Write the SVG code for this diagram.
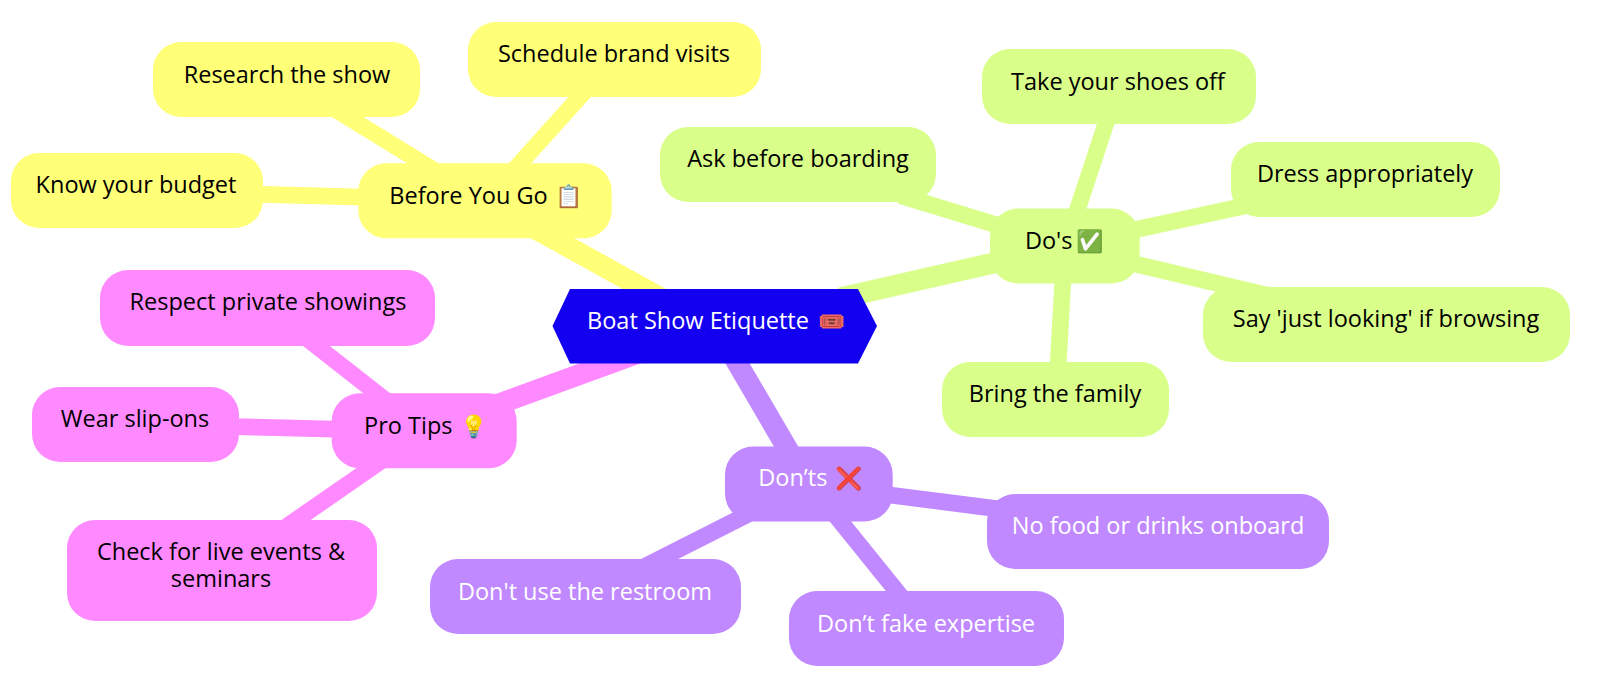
<svg xmlns="http://www.w3.org/2000/svg" width="1600" height="698" viewBox="0 0 1600 698">
<style>
text{font-family:"Open Sans","Noto Sans","DejaVu Sans",sans-serif;font-size:23.5px;text-anchor:middle}
.e{font-size:22px}
.d{fill:#000}.w{fill:#fff}
.y rect{fill:#ffff78}.g rect{fill:#d9ff8a}.p rect{fill:#c189ff}.m rect{fill:#ff8aff}
.cy{stroke:#ffff78}.cg{stroke:#d9ff8a}.cp{stroke:#c189ff}.cm{stroke:#ff8aff}
line{fill:none}
.t1{stroke-width:21}.t2{stroke-width:16.7}
</style>
<g id="connectors">
<line class="cy t1" x1="520" y1="220.2" x2="680" y2="308.7"/>
<line class="cg t1" x1="840" y1="297.9" x2="1010" y2="259.3"/>
<line class="cp t1" x1="715" y1="325" x2="808" y2="484"/>
<line class="cm t1" x1="480" y1="410.8" x2="660" y2="345.1"/>
<line class="cy t2" x1="595" y1="80" x2="505" y2="180"/>
<line class="cy t2" x1="320" y1="100" x2="450" y2="180"/>
<line class="cy t2" x1="240" y1="193.7" x2="380" y2="197.6"/>
<line class="cg t2" x1="900" y1="195.4" x2="1010" y2="229"/>
<line class="cg t2" x1="1072" y1="226" x2="1112" y2="105"/>
<line class="cg t2" x1="1120" y1="233" x2="1260" y2="202.6"/>
<line class="cg t2" x1="1120" y1="260.4" x2="1280" y2="298.3"/>
<line class="cg t2" x1="1064" y1="260" x2="1057" y2="385"/>
<line class="cp t2" x1="870" y1="492.5" x2="1010" y2="510.4"/>
<line class="cp t2" x1="815" y1="490" x2="920" y2="620"/>
<line class="cp t2" x1="770" y1="503" x2="630" y2="574"/>
<line class="cm t2" x1="290" y1="325.3" x2="400" y2="411.5"/>
<line class="cm t2" x1="215" y1="426.1" x2="355" y2="429.6"/>
<line class="cm t2" x1="400" y1="448" x2="270" y2="538"/>
</g>
<g id="root"><polygon points="552.5,326 570,289 858,289 877,326 858,363.5 570,363.5" fill="#1400f0"/><text class="w" y="329"><tspan x="698">Boat Show Etiquette</tspan><tspan class="e" x="831">🎟️</tspan></text></g>
<g id="before" class="y"><rect x="358.3" y="163.3" width="253.4" height="75" rx="28"/><text class="d" y="204"><tspan x="468.5">Before You Go</tspan><tspan class="e" x="568">📋</tspan></text></g>
<g id="schedule" class="y"><rect x="468" y="22" width="293" height="75" rx="28"/><text class="d" x="614" y="62">Schedule brand visits</text></g>
<g id="research" class="y"><rect x="153" y="42" width="267" height="75" rx="28"/><text class="d" x="287" y="83">Research the show</text></g>
<g id="budget" class="y"><rect x="11" y="153" width="252" height="75" rx="28"/><text class="d" x="136" y="193">Know your budget</text></g>
<g id="dos" class="g"><rect x="990" y="208.5" width="149.7" height="75" rx="28"/><text class="d" y="249"><tspan x="1048.7">Do's</tspan><tspan class="e" x="1089">✅</tspan></text></g>
<g id="ask" class="g"><rect x="660" y="127" width="276" height="75" rx="28"/><text class="d" x="798" y="167">Ask before boarding</text></g>
<g id="shoes" class="g"><rect x="982" y="49" width="274" height="75" rx="28"/><text class="d" x="1118" y="89.5">Take your shoes off</text></g>
<g id="dress" class="g"><rect x="1231" y="142" width="269" height="75" rx="28"/><text class="d" x="1365" y="182">Dress appropriately</text></g>
<g id="say" class="g"><rect x="1203" y="287" width="367" height="75" rx="28"/><text class="d" x="1386" y="327">Say 'just looking' if browsing</text></g>
<g id="family" class="g"><rect x="942" y="362" width="227" height="75" rx="28"/><text class="d" x="1055" y="402">Bring the family</text></g>
<g id="donts" class="p"><rect x="725" y="446.5" width="167.7" height="75" rx="28"/><text class="w" y="486"><tspan x="792.8">Don’ts</tspan><tspan class="e" x="848">❌</tspan></text></g>
<g id="food" class="p"><rect x="987" y="494" width="342" height="75" rx="28"/><text class="w" x="1158" y="534">No food or drinks onboard</text></g>
<g id="fake" class="p"><rect x="789" y="591" width="275" height="75" rx="28"/><text class="w" x="926" y="632">Don’t fake expertise</text></g>
<g id="restroom" class="p"><rect x="430" y="559" width="311" height="75" rx="28"/><text class="w" x="585" y="600">Don't use the restroom</text></g>
<g id="pro" class="m"><rect x="331.7" y="393.3" width="185" height="75" rx="28"/><text class="d" y="433.5"><tspan x="408.3">Pro Tips</tspan><tspan class="e" x="473">💡</tspan></text></g>
<g id="respect" class="m"><rect x="100" y="270" width="335" height="76" rx="28"/><text class="d" x="268" y="310">Respect private showings</text></g>
<g id="slip" class="m"><rect x="32" y="387" width="207" height="75" rx="28"/><text class="d" x="135" y="427">Wear slip-ons</text></g>
<g id="check" class="m"><rect x="67" y="520" width="310" height="101" rx="28"/><text class="d"><tspan x="221" y="560">Check for live events &amp;</tspan><tspan x="221" y="587">seminars</tspan></text></g>
</svg>
